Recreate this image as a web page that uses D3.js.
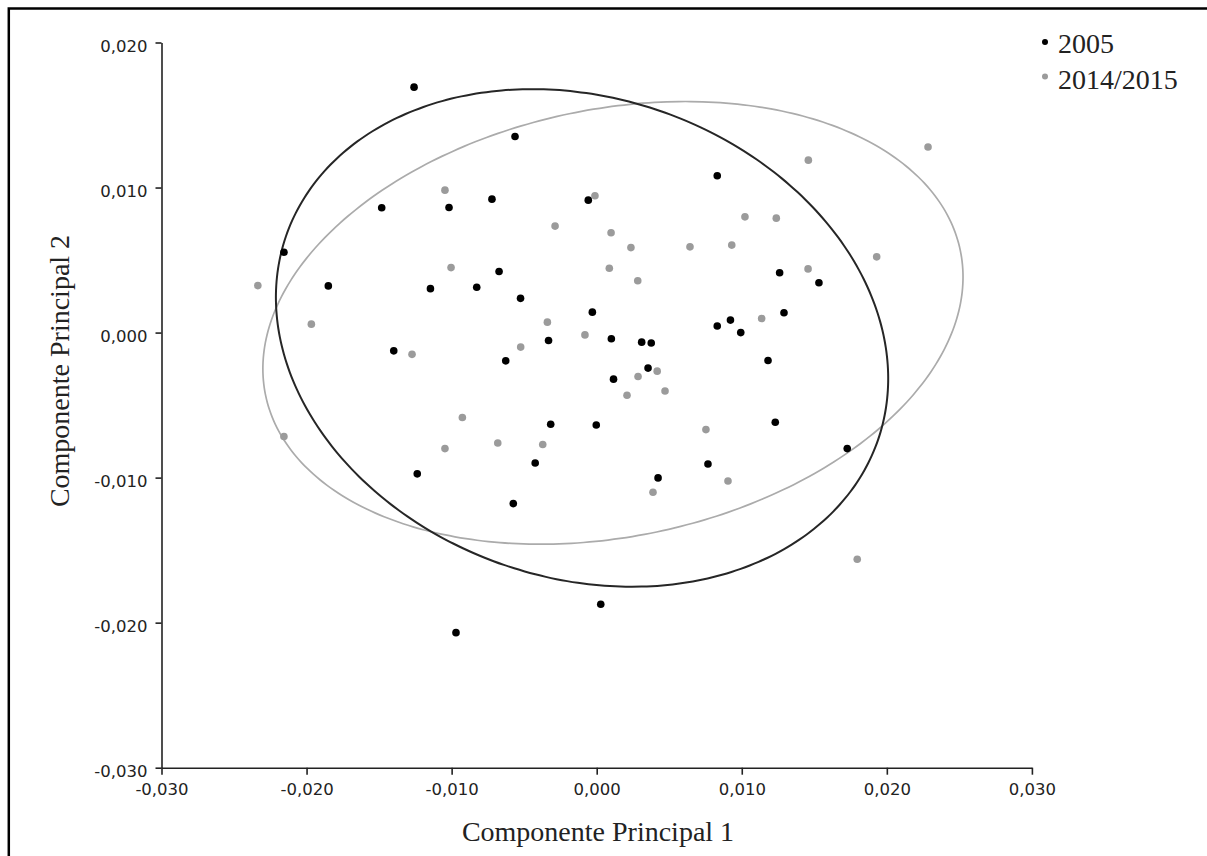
<!DOCTYPE html>
<html>
<head>
<meta charset="utf-8">
<script src="https://cdn.jsdelivr.net/npm/d3@7"></script>
<style>
  body { margin: 0; background: #fff; }
</style>
</head>
<body>
<div id="visualizer"></div>
<script>
// PCA scores
const pc1_2005 = [-0.01259, -0.00563, 0.00831, -0.00058, -0.01482, -0.01018, -0.00722, -0.02156, -0.00673, -0.0185,
    -0.01146, -0.00827, -0.00525, 0.01261, 0.01532, -0.0003, -0.01399, -0.00332, 0.00101, 0.0031,
    0.00376, 0.00831, 0.00922, 0.00993, 0.01291, -0.00627, 0.00116, 0.00354, 0.01181, -0.00317,
    -0.00003, 0.01231, 0.01727, -0.01237, -0.00424, 0.00423, 0.00767, -0.00575, 0.00028, -0.0097];
const pc2_2005 = [0.01692, 0.01352, 0.01081, 0.00913, 0.00861, 0.00862, 0.0092, 0.00554, 0.00421, 0.00322,
    0.00303, 0.00313, 0.00236, 0.00412, 0.00344, 0.00141, -0.00126, -0.00055, -0.00043, -0.00066,
    -0.00072, 0.00045, 0.00086, 0.0, 0.00137, -0.00195, -0.00321, -0.00245, -0.00193, -0.00632,
    -0.00637, -0.00618, -0.008, -0.00974, -0.00899, -0.01002, -0.00906, -0.01179, -0.01873, -0.02069];

const pc1_2014 = [-0.01046, -0.00012, -0.00287, 0.00099, 0.00236, 0.00643, 0.00931, 0.01022, 0.01238, 0.01459,
    0.02284, 0.0193, 0.01457, -0.01004, 0.00087, 0.00283, -0.02336, -0.01967, -0.0034, -0.00081,
    0.01137, -0.01273, -0.00524, 0.00417, 0.00285, 0.00209, 0.00471, -0.00926, -0.02156, -0.01046,
    -0.00682, -0.00372, 0.00753, 0.00388, 0.00905, 0.01796];
const pc2_2014 = [0.00982, 0.00943, 0.00734, 0.00688, 0.00586, 0.00591, 0.00603, 0.00798, 0.00789, 0.01189,
    0.01279, 0.00522, 0.00439, 0.00448, 0.00444, 0.00357, 0.00324, 0.00058, 0.00072, -0.00016,
    0.00097, -0.0015, -0.001, -0.00266, -0.00303, -0.00432, -0.00403, -0.00586, -0.00717, -0.008,
    -0.00761, -0.00772, -0.00669, -0.01101, -0.01023, -0.01563];

const groups = ["2005", "2014/2015"];

// confidence ellipses (data units), one per group
const ellipseCenterX = [-0.00101, 0.00112];
const ellipseCenterY = [-0.00037, 0.00067];
const ellipseSemiMajor = [0.02158, 0.02446];
const ellipseSemiMinor = [0.01655, 0.01473];
const ellipseAngleDeg = [-19, 11.8];

const xTicks = [-0.03, -0.02, -0.01, 0, 0.01, 0.02, 0.03];
const yTicks = [-0.03, -0.02, -0.01, 0, 0.01, 0.02];

const width = 1207;
const height = 856;
const colors = ["#000000", "#9b9b9b"];
const ellipseColors = ["#262626", "#ababab"];

const locale = d3.formatLocale({decimal: ",", thousands: ".", grouping: [3], currency: ["", ""], minus: "-"});
const fmt = locale.format(".3f");

var svg = d3.select("#visualizer").append("svg")
    .attr("width", width)
    .attr("height", height);

// frame (only top and left edges show in the picture)
svg.append("rect")
    .attr("x", 8.8).attr("y", 8.5)
    .attr("width", 1300).attr("height", 1000)
    .style("fill", "none")
    .style("stroke", "#000")
    .style("stroke-width", 2.5);

var x = d3.scaleLinear().domain([-0.03, 0.03]).range([161.5, 1031.9]);
var y = d3.scaleLinear().domain([-0.03, 0.02]).range([767.7, 42.5]);

var xAxis = svg.append("g")
    .attr("transform", "translate(0," + y(-0.03) + ")")
    .call(d3.axisBottom(x).tickValues(xTicks).tickFormat(fmt).tickSize(7).tickPadding(9).tickSizeOuter(0));

var yAxis = svg.append("g")
    .attr("transform", "translate(" + x(-0.03) + ",0)")
    .call(d3.axisLeft(y).tickValues(yTicks).tickFormat(fmt).tickSize(6).tickPadding(8).tickSizeOuter(0));

[xAxis, yAxis].forEach(function(g) {
    g.selectAll("path, line").style("stroke", "#222").style("stroke-width", 1.6);
    g.selectAll("text")
        .style("font-family", "'DejaVu Sans', sans-serif")
        .style("font-size", "16.5px")
        .style("fill", "#222");
});
yAxis.selectAll("text").attr("dy", "0.55em");

// axis titles
svg.append("text")
    .attr("x", 598).attr("y", 841)
    .attr("text-anchor", "middle")
    .style("font-family", "'Liberation Serif', 'Times New Roman', serif")
    .style("font-size", "28px")
    .style("fill", "#222")
    .text("Componente Principal 1");

svg.append("text")
    .attr("transform", "translate(69,371) rotate(-90)")
    .attr("text-anchor", "middle")
    .style("font-family", "'Liberation Serif', 'Times New Roman', serif")
    .style("font-size", "28px")
    .style("fill", "#222")
    .text("Componente Principal 2");

// ellipses
function ellipsePoints(i) {
    var phi = ellipseAngleDeg[i] * Math.PI / 180;
    var pts = [];
    for (var k = 0; k <= 180; k++) {
        var t = k / 180 * 2 * Math.PI;
        var ex = ellipseSemiMajor[i] * Math.cos(t);
        var ey = ellipseSemiMinor[i] * Math.sin(t);
        pts.push([ellipseCenterX[i] + ex * Math.cos(phi) - ey * Math.sin(phi),
                  ellipseCenterY[i] + ex * Math.sin(phi) + ey * Math.cos(phi)]);
    }
    return pts;
}

var line = d3.line().x(d => x(d[0])).y(d => y(d[1])).curve(d3.curveCardinalClosed);

svg.append("g").selectAll("path")
    .data([1, 0])
    .join("path")
        .attr("d", i => line(ellipsePoints(i).slice(0, -1)))
        .style("fill", "none")
        .style("stroke", i => ellipseColors[i])
        .style("stroke-width", i => i === 0 ? 2 : 1.7);

// points
const points_data = [];
pc1_2014.forEach((v, i) => points_data.push({g: 1, x: v, y: pc2_2014[i]}));
pc1_2005.forEach((v, i) => points_data.push({g: 0, x: v, y: pc2_2005[i]}));

svg.append("g").selectAll("circle")
    .data(points_data)
    .join("circle")
        .attr("r", 3.8)
        .attr("cx", d => x(d.x))
        .attr("cy", d => y(d.y))
        .style("fill", d => colors[d.g]);

// legend
var legend = svg.append("g").selectAll("g")
    .data(groups)
    .join("g")
        .attr("transform", (d, i) => "translate(1045," + (i === 0 ? 42 : 76.5) + ")");

legend.append("circle")
    .attr("r", 3)
    .style("fill", (d, i) => colors[i]);

legend.append("text")
    .attr("x", 13).attr("y", (d, i) => i === 0 ? 10.7 : 12.8)
    .style("font-family", "'Liberation Serif', 'Times New Roman', serif")
    .style("font-size", "28px")
    .style("fill", "#222")
    .text(d => d);
</script>
</body>
</html>
